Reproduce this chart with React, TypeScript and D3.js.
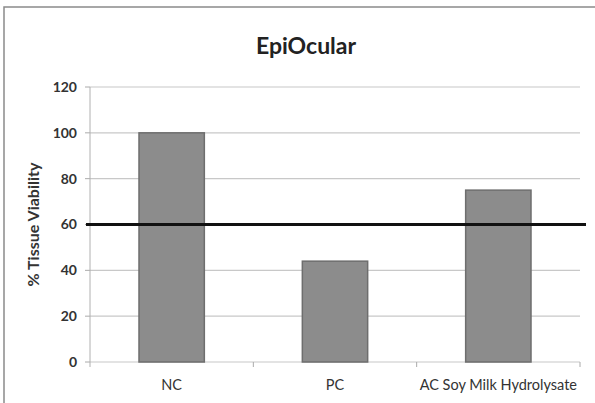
import React from "react";
import * as d3 from "d3";

const categories = ["NC", "PC", "AC Soy Milk Hydrolysate"];
const viability = [100, 44, 75];
const yTicks = [0, 20, 40, 60, 80, 100, 120];
const threshold = 60;
const title = "EpiOcular";
const yLabel = "% Tissue Viability";

export default function App() {
  const W = 595, H = 403;
  const left = 90, right = 580, top = 87, bottom = 362;
  const x = d3.scaleBand<string>().domain(categories).range([left, right]).paddingInner(0.6).paddingOuter(0.3);
  const xb = d3.scaleBand<string>().domain(categories).range([left, right]);
  const y = d3.scaleLinear().domain([0, 120]).range([bottom, top]);
  const font = "Lato, 'Open Sans', sans-serif";
  return (
    <svg width={W} height={H} style={{ position: "absolute", left: 0, top: 0, background: "#fff" }} fontFamily={font}>
      <rect x={4} y={7} width={W + 10} height={H + 10} fill="#fff" stroke="#8a8a8a" strokeWidth={1.5} />
      <text x={306} y={54} textAnchor="middle" fontSize={23} fontWeight="bold" fill="#222">{title}</text>
      {yTicks.map((t) => (
        <g key={t}>
          <line x1={left} x2={right} y1={y(t)} y2={y(t)} stroke="#c8c8c8" strokeWidth={1.2} />
          <line x1={left - 5} x2={left} y1={y(t)} y2={y(t)} stroke="#aaa" />
          <text x={left - 13} y={y(t)} dy="0.35em" textAnchor="end" fontSize={14} fontWeight="bold" fill="#333">{t}</text>
        </g>
      ))}
      <line x1={left} x2={left} y1={top} y2={bottom + 5} stroke="#b0b0b0" />
      {categories.map((c) => (
        <line key={c} x1={(xb(c) as number) + xb.bandwidth()} x2={(xb(c) as number) + xb.bandwidth()} y1={bottom} y2={bottom + 5} stroke="#aaa" />
      ))}
      {categories.map((c, i) => (
        <rect key={c} x={x(c)} y={y(viability[i])} width={x.bandwidth()} height={bottom - y(viability[i])} fill="#8c8c8c" stroke="#6e6e6e" strokeWidth={1.5} />
      ))}
      <line x1={86} x2={586} y1={y(threshold)} y2={y(threshold)} stroke="#111" strokeWidth={3} />
      {categories.map((c) => (
        <text key={c} x={(xb(c) as number) + xb.bandwidth() / 2} y={390} textAnchor="middle" fontSize={14.5} fill="#333">{c}</text>
      ))}
      <text transform={`translate(39,${(top + bottom) / 2}) rotate(-90)`} textAnchor="middle" fontSize={16} fontWeight="bold" fill="#333">{yLabel}</text>
    </svg>
  );
}
